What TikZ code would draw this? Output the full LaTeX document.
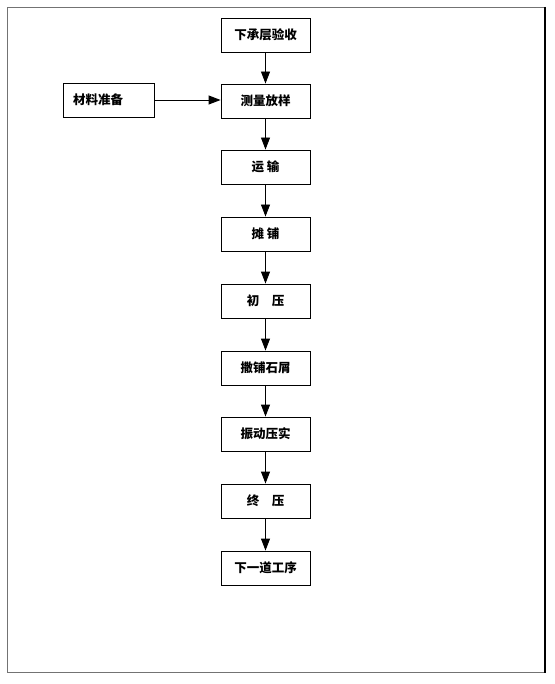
\documentclass[tikz,border=0pt]{standalone}
\usepackage{fontspec}
\newfontfamily\cjk{Noto Sans CJK SC}
\usetikzlibrary{arrows.meta}
\begin{document}
\begin{tikzpicture}[x=1pt,y=-1pt,
  stepbox/.style={draw=black,line width=0.9pt,minimum width=89pt,minimum height=34pt,inner sep=0pt,font=\cjk\bfseries\fontsize{12.5}{14}\selectfont},
  conn/.style={line width=0.9pt,-{Triangle[length=12pt,width=9pt]}}]
\useasboundingbox (0,0) rectangle (554,684);
\fill[white] (0,0) rectangle (554,684);
\draw[line width=1.5pt,black!55] (7.5,7.5) rectangle (545,672.5);
\draw[line width=1.2pt,black] (545,7) -- (545,673);
\node[stepbox] (n1) at (265.5,35) {下承层验收};
\node[stepbox] (n2) at (265.5,101) {测量放样};
\node[stepbox] (n3) at (265.5,167) {运\ 输};
\node[stepbox] (n4) at (265.5,234) {摊\ 铺};
\node[stepbox] (n5) at (265.5,301) {初\quad 压};
\node[stepbox] (n6) at (265.5,368) {撒铺石屑};
\node[stepbox] (n7) at (265.5,434) {振动压实};
\node[stepbox] (n8) at (265.5,501) {终\quad 压};
\node[stepbox] (n9) at (265.5,568) {下一道工序};
\node[stepbox,minimum width=91pt] (m) at (108.5,100) {\makebox[71pt][l]{材料准备}};
\draw[conn] (n1) -- (n2);
\draw[conn] (n2) -- (n3);
\draw[conn] (n3) -- (n4);
\draw[conn] (n4) -- (n5);
\draw[conn] (n5) -- (n6);
\draw[conn] (n6) -- (n7);
\draw[conn] (n7) -- (n8);
\draw[conn] (n8) -- (n9);
\draw[conn] (m.east) -- (n2.west |- m.east);
\end{tikzpicture}
\end{document}
